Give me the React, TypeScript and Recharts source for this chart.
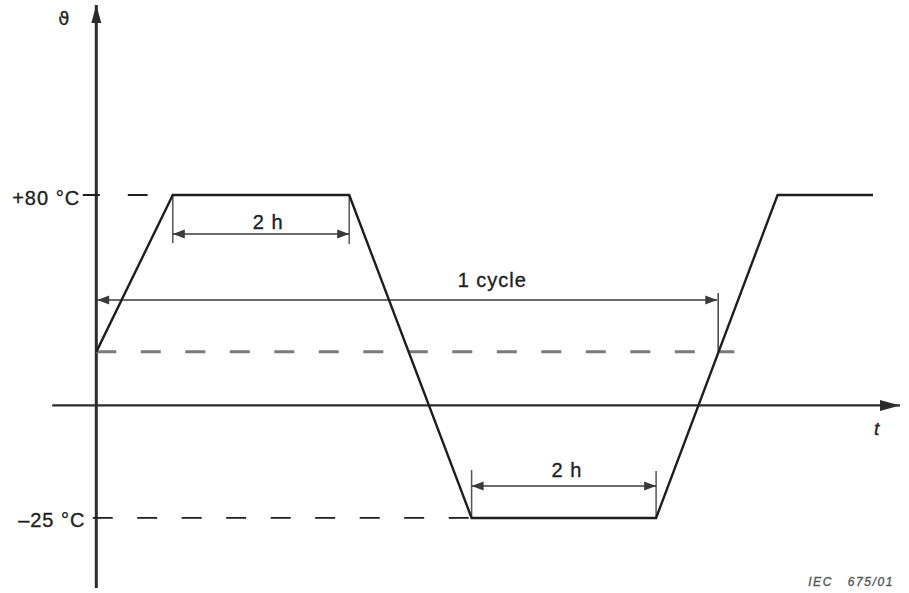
/**
 * Temperature cycling profile (IEC 675/01) drawn with Recharts
 */

import { ComposedChart, Line, XAxis, YAxis, ReferenceLine, ReferenceDot } from 'recharts';

// Profile of the test: time (h) and temperature (°C) at each corner
const profileTime = [0, 0.85, 2.81, 4.17, 6.22, 7.57, 8.63];
const profileTemp = [29, 80, 80, -25, -25, 80, 80];

// Limits that are marked on the temperature axis
const upperTemp = 80;
const lowerTemp = -25;
const startTemp = 29;

// Plateau and cycle boundaries (h)
const upperPlateau = [0.85, 2.81];
const lowerPlateau = [4.17, 6.22];
const cycleEnd = 6.91;

// Diagram frame
const T_MIN = -1.07;
const T_MAX = 9.03;
const TEMP_MIN = -49.4;
const TEMP_MAX = 143.4;

const colors = {
  line: '#1e1e1e',
  axis: '#2b2b2b',
  grey: '#7a7a7a',
  dim: '#3a3a3a',
  text: '#222222',
};

const profile = profileTime.map((t, i) => ({ t, temp: profileTemp[i] }));

interface ArrowOpts {
  start?: boolean;
  end?: boolean;
  len?: number;
  half?: number;
  color?: string;
  width?: number;
  dash?: string;
}

// ReferenceLine shape: a line with optional filled arrow heads
function arrowShape({ start, end, len = 12, half = 4.5, color = colors.dim, width = 1.5, dash }: ArrowOpts) {
  return (p: any) => {
    const { x1, y1, x2, y2 } = p;
    const dx = x2 - x1;
    const dy = y2 - y1;
    const d = Math.sqrt(dx * dx + dy * dy) || 1;
    const ux = dx / d;
    const uy = dy / d;
    const head = (tx: number, ty: number, sx: number, sy: number) => {
      const bx = tx - sx * len;
      const by = ty - sy * len;
      return `${tx},${ty} ${bx - sy * half},${by + sx * half} ${bx + sy * half},${by - sx * half}`;
    };
    return (
      <g>
        <line x1={x1} y1={y1} x2={x2} y2={y2} stroke={color} strokeWidth={width} strokeDasharray={dash} />
        {start && <polygon points={head(x1, y1, -ux, -uy)} fill={color} />}
        {end && <polygon points={head(x2, y2, ux, uy)} fill={color} />}
      </g>
    );
  };
}

interface TextOpts {
  text: string;
  anchor?: 'start' | 'middle' | 'end';
  size?: number;
  italic?: boolean;
  family?: string;
  color?: string;
  spacing?: number;
}

function textShape({ text, anchor = 'middle', size = 20, italic, family = 'Liberation Sans, Arial, sans-serif', color = colors.text, spacing = 1 }: TextOpts) {
  return (p: any) => (
    <text
      x={p.cx}
      y={p.cy}
      textAnchor={anchor}
      dominantBaseline="central"
      fontSize={size}
      fontStyle={italic ? 'italic' : 'normal'}
      fontFamily={family}
      fill={color}
      stroke={color}
      strokeWidth={0.35}
      letterSpacing={spacing}
      style={{ whiteSpace: 'pre' }}
    >
      {text}
    </text>
  );
}

export default function App() {
  return (
    <div style={{ position: 'absolute', left: 0, top: 0, width: 909, height: 593, background: '#fff' }}>
      <ComposedChart width={909} height={593} data={profile} margin={{ top: 0, right: 0, bottom: 0, left: 0 }}>
        <XAxis dataKey="t" type="number" domain={[T_MIN, T_MAX]} allowDataOverflow hide />
        <YAxis type="number" domain={[TEMP_MIN, TEMP_MAX]} allowDataOverflow hide />

        {/* axes */}
        <ReferenceLine
          segment={[{ x: -0.49, y: 11.6 }, { x: 8.93, y: 11.6 }]}
          ifOverflow="visible"
          shape={arrowShape({ end: true, len: 20, half: 5.5, color: colors.axis, width: 2.3 })}
        />
        <ReferenceLine
          segment={[{ x: 0, y: -47.8 }, { x: 0, y: 141.8 }]}
          ifOverflow="visible"
          shape={arrowShape({ end: true, len: 18, half: 5, color: colors.axis, width: 3 })}
        />

        {/* level guides */}
        <ReferenceLine
          segment={[{ x: -0.15, y: upperTemp }, { x: 0.57, y: upperTemp }]}
          ifOverflow="visible"
          shape={arrowShape({ color: colors.line, width: 1.8, dash: '17 28 20 200' })}
        />
        <ReferenceLine
          segment={[{ x: -0.04, y: lowerTemp }, { x: lowerPlateau[0], y: lowerTemp }]}
          ifOverflow="visible"
          shape={arrowShape({ color: colors.line, width: 1.8, dash: '20 24.5' })}
        />
        <ReferenceLine
          segment={[{ x: 0, y: startTemp }, { x: 7.09, y: startTemp }]}
          ifOverflow="visible"
          shape={arrowShape({ color: colors.grey, width: 3, dash: '20 24.5' })}
        />

        {/* 2 h at upper level */}
        <ReferenceLine
          segment={[{ x: upperPlateau[0], y: upperTemp }, { x: upperPlateau[0], y: 64.4 }]}
          ifOverflow="visible"
          shape={arrowShape({ color: '#555', width: 1.5 })}
        />
        <ReferenceLine
          segment={[{ x: upperPlateau[1], y: upperTemp }, { x: upperPlateau[1], y: 64.1 }]}
          ifOverflow="visible"
          shape={arrowShape({ color: '#555', width: 1.5 })}
        />
        <ReferenceLine
          segment={[{ x: upperPlateau[0], y: 67.3 }, { x: upperPlateau[1], y: 67.3 }]}
          ifOverflow="visible"
          shape={arrowShape({ start: true, end: true })}
        />

        {/* 1 cycle */}
        <ReferenceLine
          segment={[{ x: cycleEnd, y: 48.1 }, { x: cycleEnd, y: startTemp }]}
          ifOverflow="visible"
          shape={arrowShape({ color: '#444', width: 1.5 })}
        />
        <ReferenceLine
          segment={[{ x: 0.01, y: 45.9 }, { x: cycleEnd - 0.01, y: 45.9 }]}
          ifOverflow="visible"
          shape={arrowShape({ start: true, end: true })}
        />

        {/* 2 h at lower level */}
        <ReferenceLine
          segment={[{ x: lowerPlateau[0], y: -9.4 }, { x: lowerPlateau[0], y: lowerTemp }]}
          ifOverflow="visible"
          shape={arrowShape({ color: '#555', width: 1.5 })}
        />
        <ReferenceLine
          segment={[{ x: lowerPlateau[1], y: -9.7 }, { x: lowerPlateau[1], y: lowerTemp }]}
          ifOverflow="visible"
          shape={arrowShape({ color: '#555', width: 1.5 })}
        />
        <ReferenceLine
          segment={[{ x: lowerPlateau[0], y: -14.6 }, { x: lowerPlateau[1], y: -14.6 }]}
          ifOverflow="visible"
          shape={arrowShape({ start: true, end: true })}
        />

        <Line
          dataKey="temp"
          type="linear"
          stroke={colors.line}
          strokeWidth={2.4}
          strokeLinejoin="miter"
          dot={false}
          activeDot={false}
          isAnimationActive={false}
        />

        {/* texts */}
        <ReferenceDot x={-0.36} y={137.5} r={0} ifOverflow="visible"
          shape={textShape({ text: 'ϑ', size: 18, family: 'DejaVu Sans, sans-serif', spacing: 0 })} />
        <ReferenceDot x={-0.18} y={79} r={0} ifOverflow="visible"
          shape={textShape({ text: '+80 °C', anchor: 'end' })} />
        <ReferenceDot x={-0.12} y={-25.7} r={0} ifOverflow="visible"
          shape={textShape({ text: '–25 °C', anchor: 'end' })} />
        <ReferenceDot x={1.91} y={71.2} r={0} ifOverflow="visible"
          shape={textShape({ text: '2 h' })} />
        <ReferenceDot x={4.4} y={52.4} r={0} ifOverflow="visible"
          shape={textShape({ text: '1 cycle' })} />
        <ReferenceDot x={5.23} y={-9.4} r={0} ifOverflow="visible"
          shape={textShape({ text: '2 h' })} />
        <ReferenceDot x={8.67} y={4.2} r={0} ifOverflow="visible"
          shape={textShape({ text: 't', size: 19, italic: true, spacing: 0 })} />
        <ReferenceDot x={7.91} y={-45.8} r={0} ifOverflow="visible"
          shape={textShape({ text: 'IEC   675/01', anchor: 'start', size: 12, italic: true, color: '#555', spacing: 1.6 })} />
      </ComposedChart>
    </div>
  );
}
